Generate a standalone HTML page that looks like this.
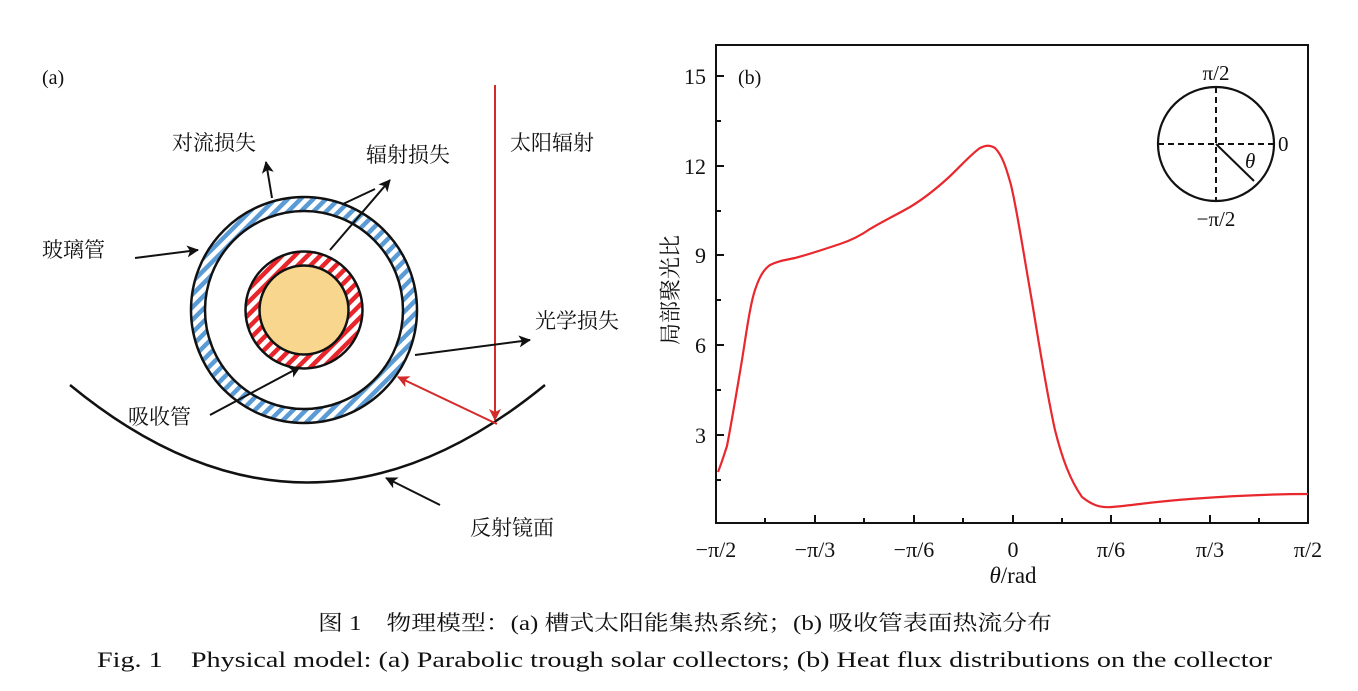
<!DOCTYPE html>
<html><head><meta charset="utf-8"><style>
html,body{margin:0;padding:0;background:#fff;}
svg text{font-family:"Liberation Serif","Noto Serif CJK SC",serif;fill:#111;}
</style></head><body>
<svg width="1358" height="686" viewBox="0 0 1358 686" xmlns="http://www.w3.org/2000/svg">
<defs>
<pattern id="hb" patternUnits="userSpaceOnUse" width="9" height="9" patternTransform="rotate(45)">
<rect width="9" height="9" fill="#fff"/><rect width="4.5" height="9" fill="#5b9bd5"/></pattern>
<pattern id="hr" patternUnits="userSpaceOnUse" width="9" height="9" patternTransform="rotate(45)">
<rect width="9" height="9" fill="#fff"/><rect width="4.5" height="9" fill="#e8252b"/></pattern>
<marker id="ab" markerWidth="12" markerHeight="12" refX="11" refY="6" orient="auto" markerUnits="userSpaceOnUse"><path d="M0,0 L12,6 L0,12 L3,6 z" fill="#111"/></marker>
<marker id="ar" markerWidth="12" markerHeight="12" refX="11" refY="6" orient="auto" markerUnits="userSpaceOnUse"><path d="M0,0 L12,6 L0,12 L3,6 z" fill="#d42a2a"/></marker>
</defs>
<!-- (a) -->
<text x="42" y="84" font-size="20">(a)</text>
<circle cx="304" cy="310" r="106" fill="none" stroke="url(#hb)" stroke-width="14"/>
<circle cx="304" cy="310" r="113" fill="none" stroke="#111" stroke-width="2.5"/>
<circle cx="304" cy="310" r="99" fill="none" stroke="#111" stroke-width="2.5"/>
<circle cx="304" cy="310" r="51.5" fill="none" stroke="url(#hr)" stroke-width="14"/>
<circle cx="304" cy="310" r="58.5" fill="none" stroke="#111" stroke-width="2.5"/>
<circle cx="304" cy="310" r="44.5" fill="#f8d68e" stroke="#111" stroke-width="2.5"/>
<path d="M70 385 Q307 580 545 385" fill="none" stroke="#111" stroke-width="2.5"/>
<line x1="495" y1="85" x2="495" y2="420" stroke="#d42a2a" stroke-width="2" marker-end="url(#ar)"/>
<line x1="497" y1="424" x2="398" y2="377" stroke="#d42a2a" stroke-width="2" marker-end="url(#ar)"/>
<text x="510" y="150" font-size="21">太阳辐射</text>
<text x="172" y="150" font-size="21">对流损失</text>
<line x1="272" y1="198" x2="266" y2="162" stroke="#111" stroke-width="2" marker-end="url(#ab)"/>
<text x="366" y="162" font-size="21">辐射损失</text>
<line x1="330" y1="250" x2="390" y2="180" stroke="#111" stroke-width="2" marker-end="url(#ab)"/>
<line x1="343" y1="204" x2="375" y2="189" stroke="#111" stroke-width="2"/>
<text x="42" y="257" font-size="21">玻璃管</text>
<line x1="135" y1="258" x2="198" y2="250" stroke="#111" stroke-width="2" marker-end="url(#ab)"/>
<text x="535" y="328" font-size="21">光学损失</text>
<line x1="415" y1="355" x2="530" y2="340" stroke="#111" stroke-width="2" marker-end="url(#ab)"/>
<text x="128" y="424" font-size="21">吸收管</text>
<line x1="210" y1="415" x2="300" y2="367" stroke="#111" stroke-width="2" marker-end="url(#ab)"/>
<text x="470" y="535" font-size="21">反射镜面</text>
<line x1="440" y1="505" x2="386" y2="478" stroke="#111" stroke-width="2" marker-end="url(#ab)"/>
<!-- (b) plot -->
<rect x="716" y="45" width="592" height="478" fill="none" stroke="#111" stroke-width="2"/>
<g stroke="#111" stroke-width="2">
<line x1="716" y1="76" x2="724" y2="76"/><line x1="716" y1="121" x2="721" y2="121"/>
<line x1="716" y1="166" x2="724" y2="166"/><line x1="716" y1="211" x2="721" y2="211"/>
<line x1="716" y1="255" x2="724" y2="255"/><line x1="716" y1="300" x2="721" y2="300"/>
<line x1="716" y1="345" x2="724" y2="345"/><line x1="716" y1="390" x2="721" y2="390"/>
<line x1="716" y1="435" x2="724" y2="435"/><line x1="716" y1="480" x2="721" y2="480"/>
<line x1="765" y1="523" x2="765" y2="518"/><line x1="815" y1="523" x2="815" y2="515"/>
<line x1="864" y1="523" x2="864" y2="518"/><line x1="914" y1="523" x2="914" y2="515"/>
<line x1="963" y1="523" x2="963" y2="518"/><line x1="1013" y1="523" x2="1013" y2="515"/>
<line x1="1062" y1="523" x2="1062" y2="518"/><line x1="1111" y1="523" x2="1111" y2="515"/>
<line x1="1160" y1="523" x2="1160" y2="518"/><line x1="1210" y1="523" x2="1210" y2="515"/>
<line x1="1259" y1="523" x2="1259" y2="518"/>
</g>
<g font-size="22" text-anchor="end">
<text x="706" y="84">15</text><text x="706" y="174">12</text><text x="706" y="263">9</text>
<text x="706" y="353">6</text><text x="706" y="443">3</text></g>
<g font-size="22" text-anchor="middle">
<text x="716" y="557">−π/2</text><text x="815" y="557">−π/3</text><text x="914" y="557">−π/6</text>
<text x="1013" y="557">0</text><text x="1111" y="557">π/6</text><text x="1210" y="557">π/3</text><text x="1308" y="557">π/2</text>
<text x="1013" y="583" font-size="23"><tspan font-style="italic">θ</tspan>/rad</text></g>
<text x="678" y="290" font-size="22" text-anchor="middle" transform="rotate(-90 678 290)">局部聚光比</text>
<text x="738" y="84" font-size="20">(b)</text>
<path d="M718,472 C722,462 724,455 727,446 C732,420 737,390 742,360 C746,335 750,305 755,290 C759,278 763,270 770,265 C778,261 785,260 795,258 C810,254 825,249 840,244 C852,240 860,236 870,229 C885,220 898,214 910,207 C925,198 937,188 948,178 C960,167 970,155 980,148 C986,145 990,145 995,148 C1002,155 1006,167 1011,185 C1017,210 1023,250 1030,290 C1037,330 1045,385 1055,430 C1062,458 1070,480 1082,497 C1092,505 1100,508 1112,507 C1135,505 1160,501 1190,499 C1230,496 1270,494 1308,494" fill="none" stroke="#e8282d" stroke-width="2.2"/>
<!-- inset -->
<ellipse cx="1216" cy="144" rx="58" ry="57" fill="none" stroke="#111" stroke-width="2.2"/>
<line x1="1158" y1="144" x2="1274" y2="144" stroke="#111" stroke-width="2" stroke-dasharray="6,4"/>
<line x1="1216" y1="87" x2="1216" y2="201" stroke="#111" stroke-width="2" stroke-dasharray="6,4"/>
<line x1="1216" y1="144" x2="1254" y2="181" stroke="#111" stroke-width="2"/>
<text x="1216" y="80" font-size="21" text-anchor="middle">π/2</text>
<text x="1216" y="226" font-size="21" text-anchor="middle">−π/2</text>
<text x="1278" y="151" font-size="21">0</text>
<text x="1245" y="168" font-size="21" font-style="italic">θ</text>
<!-- captions -->
<text x="318" y="630" font-size="21" textLength="734" lengthAdjust="spacingAndGlyphs">图 1　物理模型：(a) 槽式太阳能集热系统；(b) 吸收管表面热流分布</text>
<text x="97" y="667" font-size="22" textLength="1175" lengthAdjust="spacingAndGlyphs">Fig. 1　Physical model: (a) Parabolic trough solar collectors; (b) Heat flux distributions on the collector</text>
</svg>
</body></html>
